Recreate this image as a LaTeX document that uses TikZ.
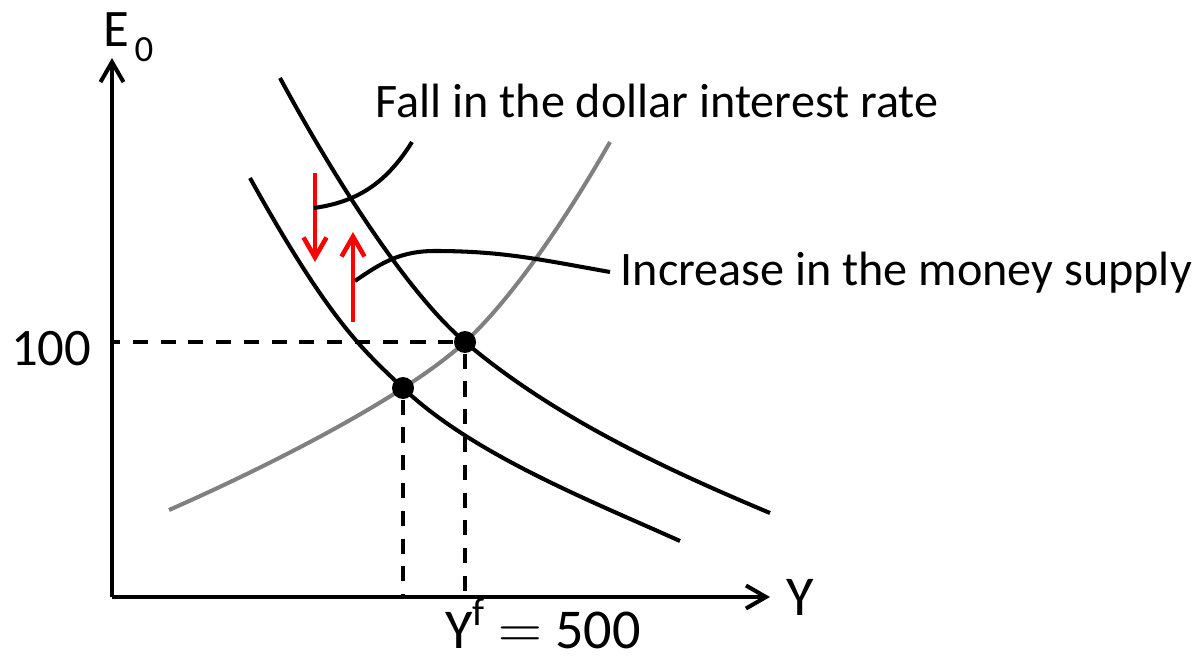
\documentclass[tikz,border=0pt]{standalone}
\usepackage{fontspec}
\setmainfont{Carlito}
\usepackage{tikz}
\usetikzlibrary{arrows.meta,positioning,calc}
\definecolor{mRed}{HTML}{FF0000}
\definecolor{mGray}{HTML}{808080}

\begin{document}
\begin{tikzpicture}[font=\fontsize{13.7}{16}\selectfont,
    >={Straight Barb[length=2mm,width=2.3mm]},
    curve/.style={line width=1.15pt},
    guide/.style={line width=1.05pt,dash pattern=on 4.3pt off 3.6pt},
    dot/.style={circle,fill=black,inner sep=0pt,minimum size=2.2mm},
    redshift/.style={mRed,line width=1.3pt,->},
    big/.style={font=\fontsize{16}{19}\selectfont,inner sep=0pt}]
  \useasboundingbox (0,0) rectangle (11.93,6.58);

  % axes
  \coordinate (O) at (1.12,0.61);
  \coordinate (ytip) at (1.12,6.00);
  \coordinate (xtip) at (7.70,0.61);
  \draw[curve,->] (O) -- (ytip);
  \draw[curve,->] (O) -- (xtip);
  \node[big,anchor=base west,font=\fontsize{15}{18}\selectfont] (elab) at (1.03,6.11)
        {E\kern1.5pt\raisebox{-4.2pt}{\fontsize{10.5}{11}\selectfont 0}};
  \node[big,anchor=base west] (ylab) at (7.86,0.43) {Y};

  % equilibria
  \coordinate (eqB) at (4.65,3.16);
  \coordinate (eqA) at (4.03,2.70);

  % gray curve and the two downward sloping curves
  \draw[curve,mGray] (1.69,1.48) .. controls (2.69,1.92) and (4.05,2.61) .. (eqB)
        .. controls (5.15,3.62) and (5.70,4.46) .. (6.10,5.16);
  \draw[curve] (2.80,5.80) .. controls (3.30,4.875) and (4.05,3.67) .. (eqB)
        .. controls (5.55,2.395) and (6.70,1.87) .. (7.70,1.45);
  \draw[curve] (2.50,4.80) .. controls (3.30,3.36) and (3.63,3.08) .. (eqA)
        .. controls (4.73,2.035) and (5.90,1.575) .. (6.80,1.17);

  \node[dot] (dotB) at (eqB) {};
  \node[dot] (dotA) at (eqA) {};
  \draw[guide] (dotB) -- (dotB -| O);
  \draw[guide] (dotB) -- (dotB |- O);
  \draw[guide] (dotA) -- (dotA |- O);
  \node[big,anchor=base east,font=\fontsize{15}{18}\selectfont] (hundred) at (0.92,2.93) {100};
  \node[big,anchor=base] (yf) at (5.43,0.10) {Y\textsuperscript{f} $=$ 500};

  % red shifts
  \coordinate (dnTop) at (3.15,4.85);
  \coordinate (dnTip) at (3.15,3.96);
  \coordinate (upBot) at (3.53,3.36);
  \coordinate (upTip) at (3.53,4.26);
  \draw[redshift] (dnTop) -- (dnTip);
  \draw[redshift] (upBot) -- (upTip);

  % labels and leaders
  \node[anchor=base west,inner sep=0pt] (fall) at (3.75,5.40) {Fall in the dollar interest rate};
  \node[anchor=base west,inner sep=0pt] (incr) at (6.20,3.73) {Increase in the money supply};
  \coordinate (fallStart) at (3.14,4.50);
  \coordinate (fallEnd) at (4.12,5.16);
  \coordinate (incrStart) at (3.55,3.77);
  \coordinate (incrTop) at (4.35,4.07);
  \coordinate (incrEnd) at (6.10,3.86);
  \draw[curve] (fallStart) to[out=8,in=238] (fallEnd);
  \draw[curve] (incrStart) to[out=35,in=180] (incrTop) to[out=0,in=170] (incrEnd);
\end{tikzpicture}
\end{document}
